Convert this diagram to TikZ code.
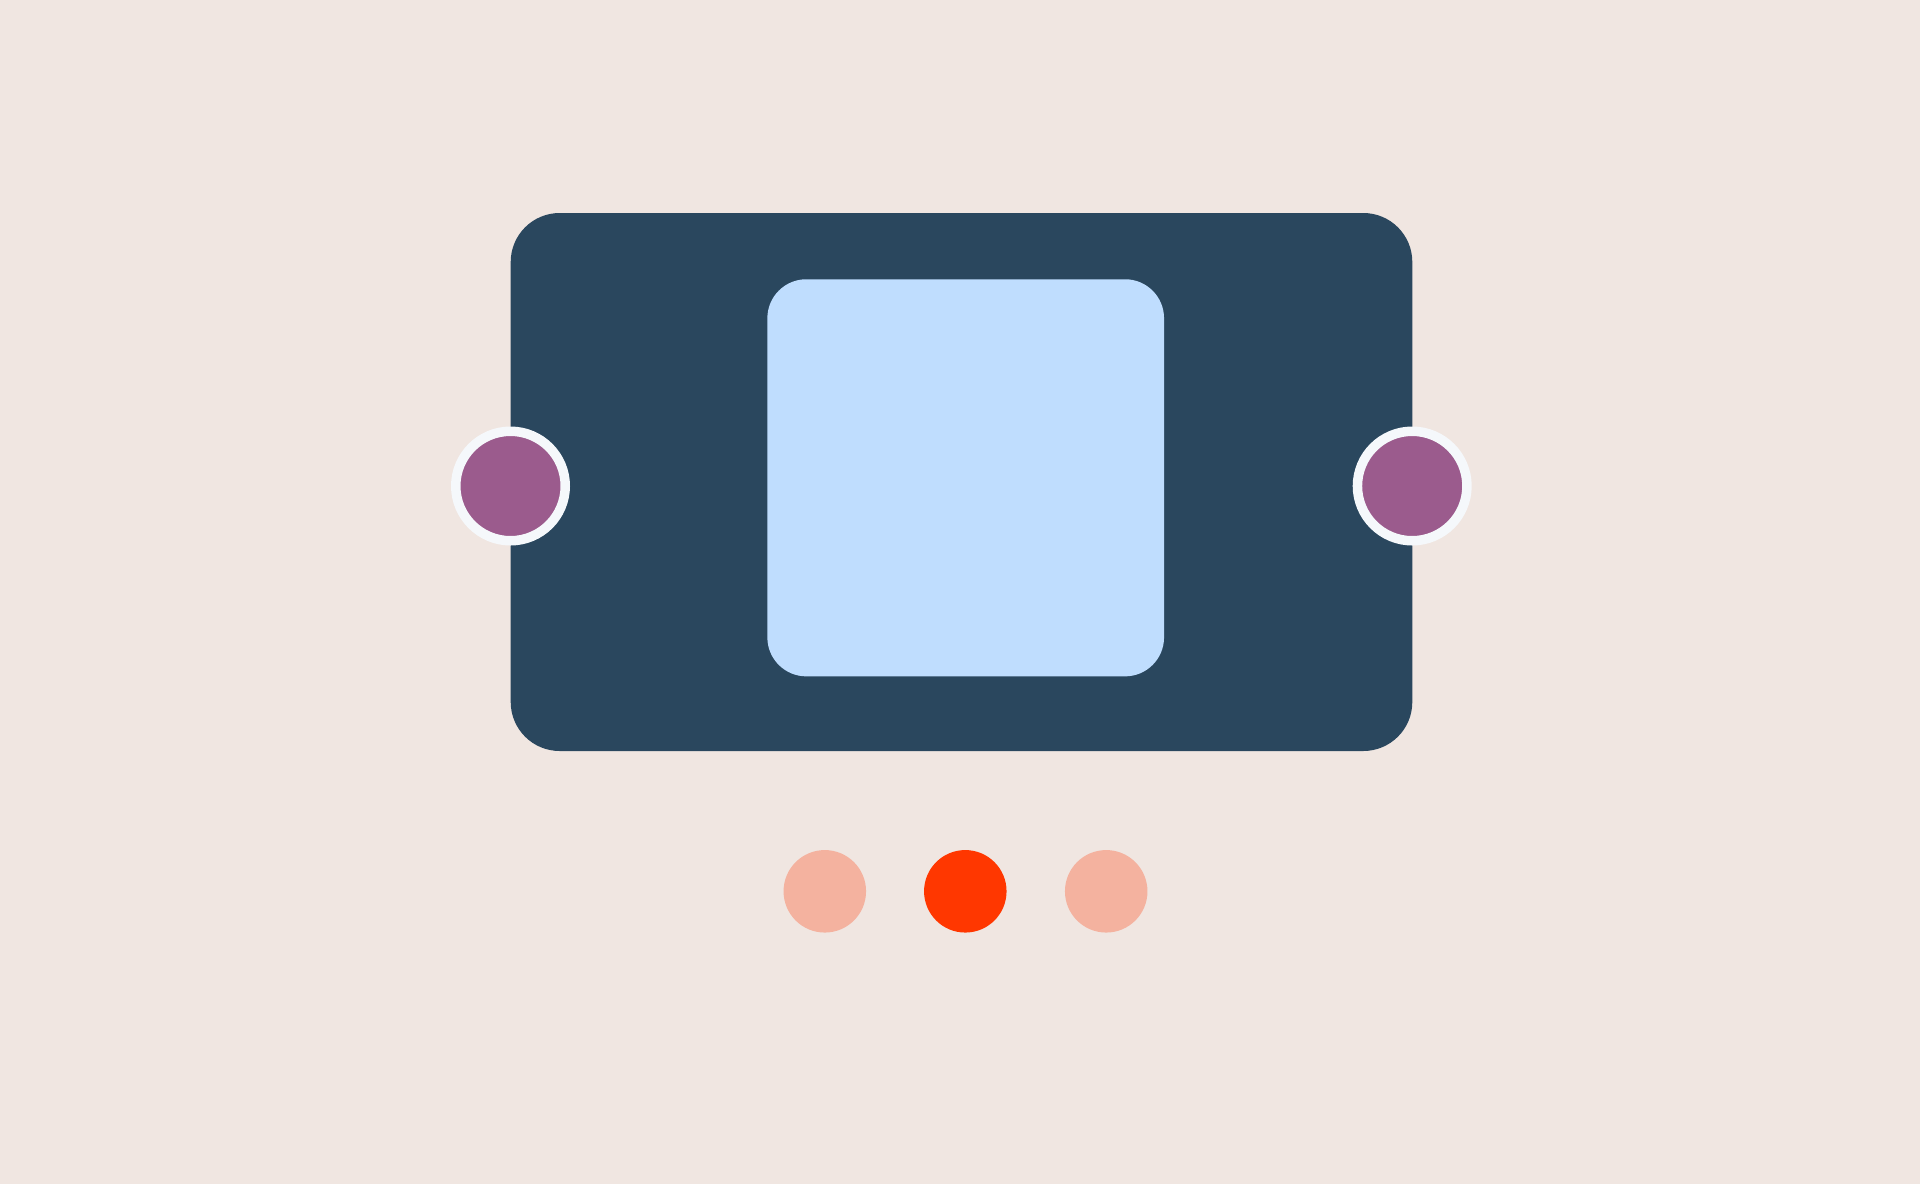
\documentclass[tikz,border=0pt]{standalone}
\usepackage{tikz}
\definecolor{bg}{HTML}{F0E6E1}
\definecolor{panel}{HTML}{2A475E}
\definecolor{screen}{HTML}{BFDDFE}
\definecolor{knob}{HTML}{9B5B8D}
\definecolor{ring}{HTML}{F5F8FB}
\definecolor{hot}{HTML}{FF3700}
\definecolor{peach}{HTML}{F4B29F}
\tikzset{
  panelbox/.style={fill=panel, draw=none, rounded corners=49pt, minimum width=901.6pt, minimum height=538pt, inner sep=0pt},
  screenbox/.style={fill=screen, draw=none, rounded corners=39pt, minimum width=396.7pt, minimum height=397.1pt, inner sep=0pt},
  knobdot/.style={circle, fill=knob, draw=ring, line width=9.5pt, minimum size=109.5pt, inner sep=0pt},
  pagedot/.style={circle, draw=none, minimum size=82.5pt, inner sep=0pt},
}
\begin{document}
\begin{tikzpicture}[x=1pt,y=-1pt]
\useasboundingbox[fill=bg] (0,0) rectangle (1920,1184);
\node[panelbox] (panel) at (961.5,482) {};
\node[screenbox] (screen) at (965.7,477.8) {};
\node[knobdot] (lknob) at (510.5,486) {};
\node[knobdot] (rknob) at (1412.2,486) {};
\node[pagedot, fill=peach] (d1) at (824.8,891.3) {};
\node[pagedot, fill=hot] (d2) at (965.3,891.3) {};
\node[pagedot, fill=peach] (d3) at (1106.2,891.3) {};
\end{tikzpicture}
\end{document}
